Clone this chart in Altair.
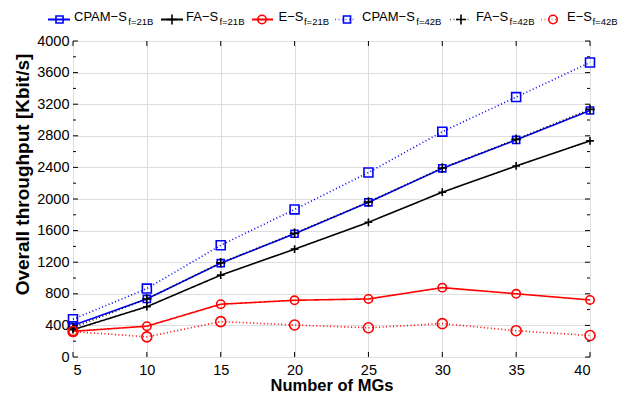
import altair as alt
import pandas as pd

# ---- data ----
mgs = [5, 10, 15, 20, 25, 30, 35, 40]
series_names = ["CPAM-S 21B", "FA-S 21B", "E-S 21B", "CPAM-S 42B", "FA-S 42B", "E-S 42B"]
cpam_21 = [400, 735, 1188, 1560, 1958, 2388, 2748, 3120]
fa_21 = [345, 637, 1036, 1365, 1705, 2086, 2418, 2736]
es_21 = [325, 390, 668, 718, 735, 878, 800, 722]
cpam_42 = [478, 866, 1414, 1868, 2335, 2852, 3290, 3728]
fa_42 = [372, 735, 1192, 1565, 1962, 2392, 2755, 3135]
es_42 = [322, 255, 448, 405, 370, 422, 333, 272]
all_vals = [cpam_21, fa_21, es_21, cpam_42, fa_42, es_42]

y_major = list(range(0, 4001, 400))
y_minor = list(range(200, 4000, 400))
x_ticks = [5, 10, 15, 20, 25, 30, 35, 40]

rows = []
for name, vals in zip(series_names, all_vals):
    for x, v in zip(mgs, vals):
        rows.append({"series": name, "mgs": x, "thr": v})
df = pd.DataFrame(rows)

W, H = 517, 316
FONT = "Liberation Sans"
PLUS = "M-1,0L1,0M0,-1L0,1"

xs = alt.Scale(domain=[5, 40], nice=False, zero=False)
ys = alt.Scale(domain=[0, 4000], nice=False)

colors = ["#0000ff", "#000000", "#ff0000", "#0000ff", "#000000", "#ff0000"]
shapes = ["square", PLUS, "circle", "square", PLUS, "circle"]
dashes = [[1, 0], [1, 0], [1, 0], [1, 2.5], [1, 2.5], [1, 2.5]]
widths = [1.6, 1.6, 1.6, 1.0, 1.0, 1.0]
line_op = [1, 1, 1, 0.65, 0.65, 0.65]
sizes = [50, 100, 70, 50, 100, 70]

base = alt.Chart(df)
x_enc = alt.X("mgs:Q", scale=xs,
              axis=alt.Axis(values=x_ticks, tickCount=40, title="Number of MGs", grid=True,
                            tickSize=0, domain=False, labelPadding=6, labelOverlap=False,
                            labelFontSize=14.5, titleFontSize=16.5, titleFontWeight="bold",
                            titlePadding=1))
y_enc = alt.Y("thr:Q", scale=ys,
              axis=alt.Axis(values=y_major, tickCount=40, format="d",
                            title="Overall throughput [Kbit/s]",
                            grid=True, tickSize=0, domain=False, labelPadding=4,
                            labelOverlap=False, labelFontSize=14.5,
                            titleFontSize=19, titleFontWeight="bold",
                            titleAngle=270, titleAlign="center", titleBaseline="middle",
                            titleX=-51, titleY=133))

lines = base.mark_line(clip=False).encode(
    x=x_enc, y=y_enc,
    color=alt.Color("series:N", scale=alt.Scale(domain=series_names, range=colors), legend=None),
    strokeDash=alt.StrokeDash("series:N", scale=alt.Scale(domain=series_names, range=dashes), legend=None),
    strokeWidth=alt.StrokeWidth("series:N", scale=alt.Scale(domain=series_names, range=widths), legend=None),
    strokeOpacity=alt.StrokeOpacity("series:N", scale=alt.Scale(domain=series_names, range=line_op), legend=None),
    detail="series:N",
)
points = base.mark_point(filled=False, strokeWidth=1.6, opacity=1, clip=False).encode(
    x=alt.X("mgs:Q", scale=xs),
    y=alt.Y("thr:Q", scale=ys),
    color=alt.Color("series:N", scale=alt.Scale(domain=series_names, range=colors), legend=None),
    shape=alt.Shape("series:N", scale=alt.Scale(domain=series_names, range=shapes), legend=None),
    size=alt.Size("series:N", scale=alt.Scale(domain=series_names, range=sizes), legend=None),
)

# inward ticks
ymaj = pd.DataFrame({"v": y_major})
ymin = pd.DataFrame({"v": y_minor})
xt = pd.DataFrame({"v": x_ticks})
tick_layers = [
    alt.Chart(ymaj).mark_rule(color="black", strokeWidth=1).encode(y=alt.Y("v:Q", scale=ys), x=alt.value(0), x2=alt.value(5)),
    alt.Chart(ymaj).mark_rule(color="black", strokeWidth=1).encode(y=alt.Y("v:Q", scale=ys), x=alt.value(W - 5), x2=alt.value(W)),
    alt.Chart(ymin).mark_rule(color="black", strokeWidth=1).encode(y=alt.Y("v:Q", scale=ys), x=alt.value(0), x2=alt.value(3)),
    alt.Chart(ymin).mark_rule(color="black", strokeWidth=1).encode(y=alt.Y("v:Q", scale=ys), x=alt.value(W - 3), x2=alt.value(W)),
    alt.Chart(xt).mark_rule(color="black", strokeWidth=1).encode(x=alt.X("v:Q", scale=xs), y=alt.value(H - 5), y2=alt.value(H)),
    alt.Chart(xt).mark_rule(color="black", strokeWidth=1).encode(x=alt.X("v:Q", scale=xs), y=alt.value(0), y2=alt.value(5)),
]

# custom legend (pixel layout relative to plot origin)
one = pd.DataFrame({"a": [0]})
OX, OY = 73, 41
MAIN_FS, SUB_FS = 13, 9.5
EM = {"CPAM\u2212S": 4.14, "FA\u2212S": 2.53, "E\u2212S": 1.92}
leg_items = [
    # line start, line end, marker x, text x, main, sub, idx
    (48, 70, 59.5, 74, "CPAM\u2212S", "f=21B", 0),
    (161, 183, 172, 186, "FA\u2212S", "f=21B", 1),
    (252, 273, 262, 278.5, "E\u2212S", "f=21B", 2),
    (335, 356, 347, 362, "CPAM\u2212S", "f=42B", 3),
    (450, 469, 461, 476, "FA\u2212S", "f=42B", 4),
    (541, 558, 553, 567, "E\u2212S", "f=42B", 5),
]
leg_layers = []
LY = 19.5 - OY
for x0, x1, mx, tx, main, sub, i in leg_items:
    sx = tx + EM[main] * MAIN_FS + 0.5
    leg_layers.append(alt.Chart(one).mark_rule(color=colors[i], strokeWidth=widths[i] + 0.3,
                                               strokeDash=dashes[i], strokeOpacity=line_op[i]).encode(
        x=alt.value(x0 - OX), x2=alt.value(x1 - OX), y=alt.value(LY)))
    leg_layers.append(alt.Chart(one).mark_point(filled=False, color=colors[i], shape=shapes[i],
                                                size=sizes[i], strokeWidth=1.6, opacity=1).encode(
        x=alt.value(mx - OX), y=alt.value(LY)))
    leg_layers.append(alt.Chart(one).mark_text(align="left", baseline="alphabetic", fontSize=MAIN_FS,
                                               font=FONT, color="black").encode(
        x=alt.value(tx - OX), y=alt.value(20.5 - OY), text=alt.value(main)))
    leg_layers.append(alt.Chart(one).mark_text(align="left", baseline="alphabetic", fontSize=SUB_FS,
                                               font=FONT, color="black").encode(
        x=alt.value(sx - OX), y=alt.value(25 - OY), text=alt.value(sub)))

chart = alt.layer(lines, points, *tick_layers, *leg_layers).properties(
    width=W, height=H,
    autosize=alt.AutoSizeParams(type="none"),
    padding={"left": OX, "top": OY, "right": 629 - OX - W, "bottom": 400 - OY - H},
).configure_view(
    stroke="black", strokeWidth=1.5
).configure_axis(
    labelFont=FONT, titleFont=FONT, labelColor="black", titleColor="black",
    gridColor="#8c8c8c", gridDash=[1, 3], gridWidth=1, gridOpacity=1,
).configure(background="white")

chart.save("out.html", embed_options={"renderer": "svg", "actions": False})
